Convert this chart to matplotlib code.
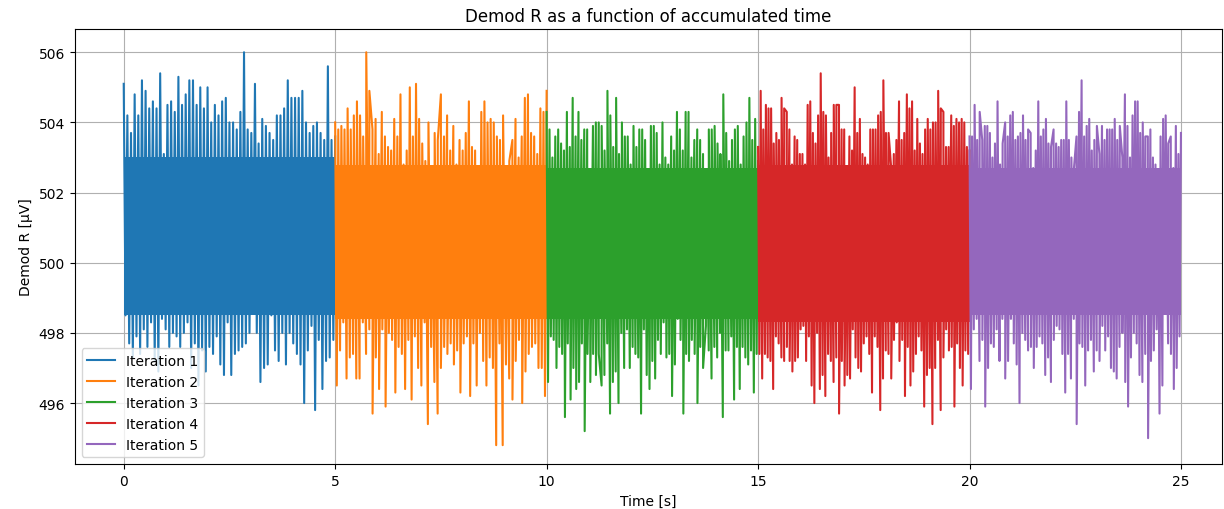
"""Demod R as a function of accumulated time, five 5 s iterations."""

import matplotlib
matplotlib.use("Agg")
import matplotlib.pyplot as plt
import numpy as np

ITER_LENGTH = 5.0  # seconds per iteration
labels = ["Iteration 1", "Iteration 2", "Iteration 3", "Iteration 4", "Iteration 5"]

# Dense core of the noise band (µV) for each iteration
band_upper = [503.0, 502.8, 502.7, 502.8, 502.7]
band_lower = [498.5, 498.4, 498.4, 498.3, 498.5]

# Upper spikes (µV), read left to right for each iteration
highs_1 = [505.1, 504.2, 503.7, 504.8, 504.2, 505.2, 504.9, 504.4, 504.6, 504.4,
           505.4, 503.1, 504.5, 504.6, 504.3, 505.3, 504.5, 504.8, 505.2, 505.2,
           504.5, 505.0, 504.4, 505.0, 504.0, 504.5, 504.2, 504.6, 504.7, 504.0,
           504.0, 503.8, 504.3, 506.0, 503.8, 503.7, 505.1, 503.4, 504.1, 503.9,
           503.7, 503.5, 504.2, 504.2, 504.4, 505.2, 504.7, 504.7, 504.7, 504.9,
           504.0, 503.7, 503.9, 504.0, 503.7, 503.5, 505.6, 503.5, 503.6]
highs_2 = [504.0, 503.8, 503.9, 503.8, 504.4, 503.8, 504.2, 504.6, 504.2, 503.6,
           506.0, 504.9, 503.8, 504.1, 503.1, 504.3, 503.6, 503.3, 503.2, 504.1,
           503.6, 504.8, 502.8, 503.2, 505.0, 503.6, 505.1, 504.1, 503.4, 502.9,
           504.0, 502.7, 503.7, 503.5, 504.8, 503.6, 504.2, 503.2, 503.9, 502.8,
           503.5, 503.2, 503.7, 504.6, 503.3, 503.2, 502.7, 504.3, 504.6, 504.0,
           504.1, 504.0, 503.6, 503.5, 504.2, 502.2, 502.9, 503.5, 504.1, 503.0,
           503.6, 504.7, 504.8, 503.7, 503.6, 503.1, 504.4, 504.3, 504.9]
highs_3 = [504.3, 503.8, 503.0, 503.6, 503.8, 503.4, 503.2, 504.3, 503.3, 504.7,
           503.6, 504.3, 503.5, 503.8, 503.8, 502.6, 503.9, 504.0, 504.0, 503.9,
           503.2, 504.9, 504.2, 503.3, 504.7, 503.1, 504.0, 503.6, 503.6, 502.8,
           503.9, 503.3, 503.8, 503.8, 503.5, 502.3, 503.9, 503.9, 503.7, 502.8,
           504.0, 503.0, 502.8, 503.6, 503.2, 504.3, 503.8, 503.2, 504.3, 504.3,
           503.0, 503.5, 503.8, 503.5, 503.1, 502.6, 503.8, 503.8, 503.9, 503.4,
           503.1, 504.8, 503.7, 502.9, 503.5, 503.8, 503.9, 502.8, 503.6, 504.0,
           504.7, 503.5, 504.1, 502.9]
highs_4 = [503.3, 504.9, 503.8, 504.5, 504.4, 504.4, 503.4, 503.7, 503.5, 504.7,
           504.4, 504.3, 503.8, 502.8, 503.6, 503.5, 503.1, 503.1, 502.8, 504.5,
           504.6, 503.7, 503.4, 504.2, 505.4, 504.3, 504.2, 503.0, 503.7, 504.5,
           504.5, 504.5, 503.8, 503.8, 502.6, 503.6, 503.2, 505.0, 503.7, 504.1,
           503.1, 503.0, 502.8, 503.8, 503.8, 503.8, 504.2, 504.3, 505.2, 503.7,
           503.7, 502.7, 503.1, 503.5, 504.6, 503.5, 503.7, 504.8, 504.4, 504.6,
           503.2, 504.1, 503.4, 503.1, 503.8, 504.1, 503.8, 504.0, 504.0, 504.9,
           504.4, 504.3, 503.3, 503.3, 504.2, 503.9, 504.1, 504.0, 504.1, 504.0,
           503.3, 503.2]
highs_5 = [503.6, 503.6, 504.5, 503.5, 504.3, 503.5, 503.9, 503.9, 503.7, 503.0,
           503.4, 504.6, 502.8, 503.4, 504.0, 503.6, 504.2, 504.3, 503.5, 503.6,
           503.7, 504.2, 503.5, 503.8, 503.7, 502.7, 503.2, 504.6, 503.6, 503.8,
           504.1, 503.4, 503.3, 503.8, 503.4, 503.3, 503.5, 503.5, 504.6, 503.5,
           503.0, 502.7, 503.6, 504.3, 505.2, 503.6, 503.9, 504.1, 503.2, 503.5,
           503.9, 503.1, 503.9, 503.5, 503.8, 503.8, 503.8, 504.1, 503.5, 503.9,
           503.0, 504.8, 503.9, 503.0, 504.2, 504.6, 504.6, 503.7, 504.0, 503.6,
           503.6, 503.8, 503.0, 502.8, 502.3, 503.6, 504.1, 504.2, 503.4, 503.6,
           502.7, 503.9, 503.1, 503.7]

# Lower spikes (µV), read left to right for each iteration
lows_1 = [498.5, 497.7, 497.3, 497.9, 497.4, 498.1, 497.6, 498.3, 497.2, 496.9,
          498.4, 498.1, 497.6, 498.0, 497.9, 497.6, 498.0, 498.3, 497.0, 497.7,
          496.5, 497.5, 496.9, 497.6, 497.4, 497.9, 497.1, 496.8, 498.3, 496.8,
          497.4, 497.5, 497.6, 497.7, 498.0, 499.0, 498.0, 496.6, 497.0, 497.1,
          498.5, 497.5, 497.2, 498.0, 497.1, 498.0, 497.7, 497.4, 497.1, 496.0,
          497.5, 498.2, 495.8, 497.8, 496.4, 497.2, 497.3, 497.8]
lows_2 = [496.5, 497.5, 498.3, 496.7, 497.3, 497.4, 496.7, 496.7, 498.3, 497.4,
          498.1, 495.7, 497.3, 496.4, 498.1, 495.9, 498.0, 497.8, 496.3, 497.6,
          497.4, 496.4, 497.8, 496.1, 497.9, 497.0, 496.5, 498.3, 495.4, 497.6,
          496.6, 495.7, 497.0, 497.6, 497.4, 497.7, 497.1, 497.5, 496.3, 497.7,
          497.9, 496.2, 497.7, 496.5, 498.0, 497.2, 496.5, 497.3, 497.0, 494.8,
          497.7, 494.8, 497.1, 496.7, 496.1, 497.2, 497.8, 496.0, 496.9, 497.4,
          497.6, 497.7, 497.0, 497.0, 496.2]
lows_3 = [496.6, 497.9, 497.8, 497.0, 497.6, 497.4, 495.6, 497.7, 496.1, 497.0,
          496.4, 496.6, 497.7, 495.2, 497.4, 496.6, 497.4, 496.8, 497.4, 496.5,
          496.8, 497.7, 495.7, 496.6, 496.9, 496.0, 498.0, 497.0, 498.1, 497.0,
          497.6, 497.4, 497.3, 495.7, 498.1, 496.8, 496.4, 497.2, 496.7, 497.8,
          497.4, 498.3, 497.3, 497.4, 496.2, 497.1, 498.4, 497.8, 495.7, 497.4,
          497.2, 497.8, 497.4, 496.0, 497.6, 497.0, 498.2, 497.5, 496.7, 497.6,
          497.3, 498.0, 495.6, 497.5, 497.5, 497.9, 496.1, 497.6, 496.4, 497.6,
          497.3, 497.1, 497.5, 496.3, 497.4]
lows_4 = [497.4, 496.7, 497.4, 497.3, 497.2, 496.4, 497.9, 497.7, 497.3, 497.2,
          497.6, 497.2, 496.9, 497.2, 497.3, 498.1, 498.2, 497.2, 497.9, 496.5,
          496.0, 498.0, 496.4, 496.8, 496.2, 497.4, 497.2, 496.6, 497.3, 495.7,
          497.2, 496.5, 496.8, 496.7, 498.1, 497.3, 497.0, 496.9, 497.7, 497.9,
          497.4, 496.3, 497.9, 497.6, 495.8, 496.7, 497.5, 497.4, 496.7, 497.8,
          498.3, 497.2, 497.8, 496.2, 497.6, 496.5, 496.9, 497.4, 497.9, 497.5,
          495.9, 496.8, 497.0, 495.4, 497.0, 497.8, 495.8, 497.3, 498.1, 497.5,
          497.6, 495.9, 497.7, 497.0, 496.5, 497.5, 497.4]
lows_5 = [496.4, 498.1, 498.4, 497.2, 497.8, 495.9, 497.0, 497.7, 497.6, 498.1,
          497.2, 498.4, 496.7, 497.2, 498.4, 497.7, 497.1, 496.0, 498.0, 497.8,
          497.5, 497.6, 497.0, 497.6, 497.9, 497.7, 496.8, 497.3, 496.6, 497.8,
          498.2, 498.1, 497.4, 496.3, 497.4, 496.7, 498.4, 495.4, 497.7, 497.6,
          496.5, 497.5, 497.8, 496.9, 497.5, 497.2, 498.2, 497.5, 497.9, 497.0,
          496.9, 496.7, 497.6, 498.0, 496.6, 495.9, 497.3, 498.0, 497.7, 496.8,
          496.6, 497.4, 495.0, 497.2, 497.5, 498.1, 495.7, 496.5, 498.6, 497.7,
          497.4, 496.4, 497.0, 497.9]

highs = [highs_1, highs_2, highs_3, highs_4, highs_5]
lows = [lows_1, lows_2, lows_3, lows_4, lows_5]
colors = ["#1f77b4", "#ff7f0e", "#2ca02c", "#d62728", "#9467bd"]


def merge_trace(hi, lo, t0):
    """Interleave upper and lower spikes in time across one iteration."""
    t_hi = np.linspace(t0, t0 + ITER_LENGTH, len(hi))
    step = ITER_LENGTH / len(lo)
    t_lo = t0 + step / 2 + np.arange(len(lo)) * step
    t = np.concatenate([t_hi, t_lo])
    v = np.concatenate([hi, lo])
    order = np.argsort(t, kind="stable")
    return t[order], v[order]


fig = plt.figure(figsize=(12.24, 5.10), dpi=100)
ax = fig.add_axes([0.061, 0.088, 0.937, 0.853])

for i, (hi, lo) in enumerate(zip(highs, lows)):
    t0 = i * ITER_LENGTH
    t, v = merge_trace(hi, lo, t0)
    # solid core where the samples are too dense to separate
    ax.fill_between([t0, t0 + ITER_LENGTH], band_lower[i], band_upper[i],
                    color=colors[i], linewidth=0, zorder=2)
    ax.plot(t, v, color=colors[i], linewidth=1.5, label=labels[i], zorder=2)

ax.set_xlim(-1.16, 25.96)
ax.set_ylim(494.26, 506.66)
ax.set_yticks([496, 498, 500, 502, 504, 506])
ax.set_xticks([0, 5, 10, 15, 20, 25])
ax.set_title("Demod R as a function of accumulated time", fontsize=12)
ax.set_xlabel("Time [s]")
ax.set_ylabel("Demod R [µV]")
ax.grid(True)
ax.legend(loc="lower left")

fig.savefig("out.png", dpi=100)
plt.close(fig)
